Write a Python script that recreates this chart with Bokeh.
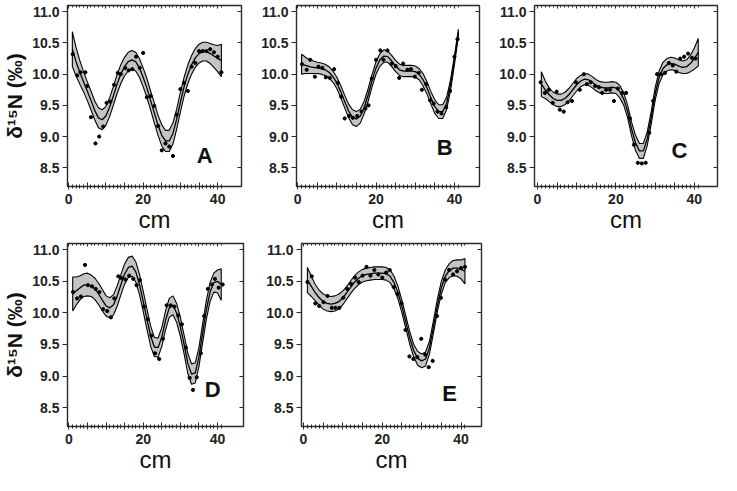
import numpy as np
from bokeh.plotting import figure
from bokeh.layouts import column, row
from bokeh.models import (LinearAxis, FixedTicker, Label,
                          PrintfTickFormatter, CustomLabelingPolicy)
from bokeh.embed import file_html
from bokeh.resources import INLINE

# ---------------- data ----------------
fit_x = list(range(1, 42))
y_ticks = [8.5, 9.0, 9.5, 10.0, 10.5, 11.0]
x_major = [0, 5, 10, 15, 20, 25, 30, 35, 40]
x_minor = list(range(0, 42))

A_x = [1.1, 2.3, 3.2, 4.5, 5.0, 6.0, 7.2, 8.2, 9.3, 10.2, 11.2, 12.2, 13.2, 14.0, 15.2, 16.1, 17.1, 18.1, 19.1, 20.0,
       21.0, 22.0, 23.0, 24.0, 25.0, 26.0, 27.0, 28.0, 29.0, 30.0, 31.0, 32.0, 33.0, 34.0, 35.0, 36.0, 37.0, 38.0,
       39.0, 40.0, 41.0]
A_y = [10.32, 9.98, 10.03, 10.03, 9.81, 9.31, 8.89, 9.00, 9.16, 9.54, 9.56, 9.83, 10.02, 10.00, 10.10, 10.06, 10.08,
       10.28, 10.10, 10.34, 9.63, 9.65, 9.49, 9.17, 8.78, 8.89, 8.84, 8.69, 9.35, 9.76, 9.86, 9.73, 10.12, 10.18, 10.37,
       10.37, 10.37, 10.40, 10.35, 10.28, 10.03]
A_fit = [10.40, 10.20, 10.03, 9.88, 9.73, 9.58, 9.42, 9.30, 9.27, 9.33, 9.47, 9.65, 9.84, 10.00, 10.12, 10.20, 10.23,
         10.20, 10.10, 9.95, 9.78, 9.58, 9.38, 9.18, 9.02, 8.93, 8.93, 9.05, 9.28, 9.55, 9.80, 10.00, 10.15, 10.26,
         10.33, 10.36, 10.36, 10.33, 10.29, 10.25, 10.22]
A_hw = [0.28, 0.23, 0.19, 0.16, 0.15, 0.15, 0.15, 0.16, 0.16, 0.15, 0.15, 0.15, 0.15, 0.15, 0.15, 0.15, 0.15, 0.15,
        0.15, 0.15, 0.15, 0.15, 0.16, 0.16, 0.17, 0.17, 0.17, 0.17, 0.16, 0.16, 0.15, 0.15, 0.15, 0.15, 0.15, 0.15,
        0.15, 0.16, 0.18, 0.21, 0.26]

B_x = [1.1, 2.3, 3.2, 4.4, 5.3, 6.3, 7.2, 8.2, 9.3, 10.2, 11.1, 12.0, 13.1, 14.1, 15.2, 16.3, 17.3, 18.1, 18.9, 20.0,
       21.1, 21.9, 22.9, 24.0, 25.0, 25.9, 26.9, 28.0, 28.9, 29.9, 30.9, 31.7, 32.8, 33.8, 34.7, 35.7, 36.7, 37.9,
       38.9, 40.0, 40.8]
B_y = [10.16, 10.07, 10.23, 9.96, 10.12, 10.10, 9.95, 9.94, 10.08, 9.86, 9.64, 9.29, 9.33, 9.30, 9.33, 9.40, 9.45,
       9.50, 9.93, 10.23, 10.38, 10.23, 10.38, 10.17, 10.13, 9.94, 10.17, 10.07, 10.08, 9.96, 10.02, 9.75, 9.84, 9.58,
       9.53, 9.40, 9.37, 9.47, 9.73, 10.28, 10.56]
B_fit = [10.16, 10.14, 10.12, 10.11, 10.10, 10.09, 10.07, 10.03, 9.96, 9.86, 9.72, 9.56, 9.41, 9.31, 9.28, 9.33, 9.47,
         9.67, 9.90, 10.10, 10.23, 10.29, 10.28, 10.21, 10.13, 10.07, 10.05, 10.05, 10.05, 10.04, 10.00, 9.91, 9.78,
         9.62, 9.48, 9.40, 9.40, 9.53, 9.82, 10.22, 10.66]
B_hw = [0.16, 0.13, 0.11, 0.10, 0.09, 0.09, 0.09, 0.09, 0.09, 0.09, 0.10, 0.10, 0.11, 0.12, 0.12, 0.11, 0.10, 0.10,
        0.10, 0.10, 0.10, 0.10, 0.09, 0.09, 0.09, 0.09, 0.09, 0.09, 0.09, 0.09, 0.09, 0.10, 0.10, 0.10, 0.11, 0.11,
        0.11, 0.10, 0.09, 0.07, 0.06]

C_x = [0.8, 1.9, 2.9, 3.9, 4.9, 5.7, 6.7, 7.7, 8.8, 9.8, 10.8, 11.8, 12.6, 13.6, 14.7, 15.7, 16.5, 17.5, 18.5, 19.5,
       20.5, 21.6, 22.6, 23.6, 24.6, 25.6, 26.6, 27.6, 28.5, 29.5, 30.5, 31.5, 32.5, 33.5, 34.5, 35.4, 36.4, 37.4,
       38.4, 39.4, 40.3]
C_y = [9.87, 9.70, 9.75, 9.54, 9.72, 9.43, 9.40, 9.55, 9.57, 9.87, 9.75, 10.00, 9.84, 9.87, 9.81, 9.79, 9.70, 9.75,
       9.75, 9.57, 9.77, 9.70, 9.70, 9.29, 8.87, 8.58, 8.57, 8.58, 9.06, 9.57, 10.00, 10.00, 10.02, 10.18, 10.14,
       10.04, 10.25, 10.28, 10.33, 10.26, 10.25]
C_fit = [9.84, 9.75, 9.67, 9.61, 9.58, 9.58, 9.61, 9.67, 9.75, 9.83, 9.89, 9.92, 9.91, 9.87, 9.82, 9.79, 9.78, 9.78,
         9.79, 9.78, 9.72, 9.60, 9.40, 9.12, 8.90, 8.77, 8.77, 8.97, 9.30, 9.68, 9.95, 10.09, 10.15, 10.17, 10.16,
         10.13, 10.11, 10.12, 10.17, 10.25, 10.35]
C_hw = [0.20, 0.14, 0.11, 0.10, 0.10, 0.10, 0.10, 0.10, 0.10, 0.10, 0.09, 0.09, 0.09, 0.09, 0.09, 0.09, 0.09, 0.09,
        0.09, 0.09, 0.10, 0.10, 0.10, 0.11, 0.12, 0.12, 0.12, 0.11, 0.10, 0.10, 0.10, 0.10, 0.10, 0.10, 0.10, 0.10,
        0.10, 0.11, 0.13, 0.17, 0.22]

D_x = [1.1, 2.2, 3.2, 4.3, 5.1, 6.2, 7.2, 8.2, 9.2, 10.3, 11.3, 12.2, 13.3, 14.2, 15.2, 16.2, 17.3, 18.2, 19.1, 20.2,
       21.2, 22.2, 23.2, 24.3, 25.3, 26.3, 27.4, 28.4, 29.4, 30.4, 31.5, 32.5, 33.4, 34.4, 35.5, 36.4, 37.4, 38.5,
       39.3, 40.3, 41.4]
D_y = [10.33, 10.23, 10.26, 10.76, 10.44, 10.42, 10.38, 10.33, 10.06, 10.03, 9.93, 10.23, 10.58, 10.55, 10.53, 10.59,
       10.54, 10.44, 10.52, 10.10, 9.90, 9.64, 9.36, 9.27, 9.59, 10.12, 10.12, 10.10, 9.96, 9.82, 9.45, 8.97, 8.78,
       8.98, 9.36, 9.95, 10.38, 10.45, 10.54, 10.40, 10.45]
D_fit = [10.30, 10.35, 10.40, 10.44, 10.45, 10.43, 10.38, 10.30, 10.20, 10.11, 10.08, 10.13, 10.27, 10.45, 10.62,
         10.72, 10.74, 10.65, 10.45, 10.18, 9.90, 9.63, 9.46, 9.45, 9.62, 9.88, 10.08, 10.12, 10.00, 9.78, 9.50, 9.20,
         9.03, 9.05, 9.30, 9.68, 10.05, 10.33, 10.48, 10.50, 10.45]
D_hw = [0.27, 0.22, 0.19, 0.18, 0.18, 0.17, 0.17, 0.17, 0.17, 0.16, 0.16, 0.16, 0.16, 0.16, 0.16, 0.16, 0.16, 0.16,
        0.16, 0.16, 0.16, 0.16, 0.15, 0.15, 0.15, 0.15, 0.15, 0.15, 0.15, 0.15, 0.15, 0.16, 0.16, 0.16, 0.15, 0.15,
        0.15, 0.15, 0.15, 0.18, 0.25]

E_x = [1.0, 2.1, 3.0, 4.0, 5.1, 6.1, 7.2, 8.1, 9.1, 10.1, 11.1, 12.1, 13.1, 14.0, 15.0, 16.0, 17.0, 18.0, 19.0, 20.0,
       21.0, 21.9, 22.9, 23.9, 24.9, 25.9, 26.9, 27.9, 28.9, 29.9, 30.9, 31.8, 32.8, 33.9, 34.9, 35.9, 37.0, 38.0,
       39.0, 40.0, 41.0]
E_y = [10.49, 10.58, 10.15, 10.11, 10.17, 10.27, 10.08, 10.08, 10.08, 10.24, 10.38, 10.46, 10.56, 10.49, 10.59, 10.73,
       10.59, 10.68, 10.61, 10.56, 10.64, 10.68, 10.41, 10.30, 10.15, 9.73, 9.31, 9.27, 9.30, 9.59, 9.34, 9.14, 9.24,
       9.95, 10.24, 10.53, 10.68, 10.61, 10.66, 10.71, 10.73]
E_fit = [10.52, 10.42, 10.32, 10.24, 10.18, 10.15, 10.14, 10.15, 10.18, 10.24, 10.32, 10.41, 10.49, 10.55, 10.59,
         10.61, 10.62, 10.63, 10.63, 10.63, 10.62, 10.58, 10.48, 10.32, 10.10, 9.85, 9.60, 9.40, 9.28, 9.24, 9.27,
         9.45, 9.78, 10.12, 10.40, 10.58, 10.67, 10.71, 10.71, 10.69, 10.66]
E_hw = [0.20, 0.16, 0.13, 0.12, 0.12, 0.12, 0.12, 0.12, 0.12, 0.11, 0.10, 0.10, 0.10, 0.10, 0.10, 0.10, 0.10, 0.10,
        0.10, 0.10, 0.10, 0.10, 0.10, 0.10, 0.10, 0.10, 0.10, 0.10, 0.11, 0.11, 0.11, 0.10, 0.10, 0.10, 0.10, 0.10,
        0.11, 0.12, 0.13, 0.15, 0.20]

FONT = "Liberation Sans"
AX = "#2a2a2a"


def panel(px, py, fit, hw, letter, lx, ly, x_range, width, height, bl, br, bt, bb, ylabel):
    p = figure(width=width, height=height, x_range=x_range, y_range=(8.2, 11.1),
               output_backend="svg", toolbar_location=None,
               min_border_left=bl, min_border_right=br, min_border_top=bt, min_border_bottom=bb)
    p.grid.visible = False
    p.outline_line_color = AX
    p.outline_line_width = 1.4
    p.background_fill_color = "white"
    p.border_fill_color = "white"

    fx = np.array(fit_x, dtype=float)
    fm = np.array(fit, dtype=float)
    fh = np.array(hw, dtype=float)
    hi = fm + fh
    lo = fm - fh
    # closed confidence band
    p.patch(np.concatenate([fx, fx[::-1]]), np.concatenate([hi, lo[::-1]]),
            fill_color="#c4c4c4", line_color="black", line_width=1.1)
    p.line(fx, fm, line_color="black", line_width=1.3)
    p.scatter(px, py, size=3.2, marker="circle", fill_color="black", line_color="black")

    # bottom axis
    xa = p.xaxis[0]
    xa.ticker = FixedTicker(ticks=x_major, minor_ticks=x_minor)
    xa.formatter = PrintfTickFormatter(format="%d")
    xa.major_label_policy = CustomLabelingPolicy(code="""
        const result = new Set()
        for (const i of indices) {
            if (i % 4 == 0) result.add(i)
        }
        return result
    """)
    xa.major_tick_in = 4
    xa.major_tick_out = 3
    xa.minor_tick_in = 2
    xa.minor_tick_out = 2
    xa.axis_line_color = AX
    xa.major_tick_line_color = AX
    xa.minor_tick_line_color = AX
    xa.major_label_text_font = FONT
    xa.major_label_text_font_style = "bold"
    xa.major_label_text_font_size = "14px"
    xa.major_label_text_color = "#222222"
    xa.major_label_standoff = 4
    xa.axis_label = "cm"
    xa.axis_label_text_font = FONT
    xa.axis_label_text_font_style = "normal"
    xa.axis_label_text_font_size = "24px"
    xa.axis_label_text_color = "#111111"
    xa.axis_label_standoff = -1

    # left axis
    ya = p.yaxis[0]
    ya.ticker = FixedTicker(ticks=y_ticks)
    ya.formatter = PrintfTickFormatter(format="%.1f")
    ya.major_tick_in = 0
    ya.major_tick_out = 5
    ya.minor_tick_in = 0
    ya.minor_tick_out = 0
    ya.axis_line_color = AX
    ya.major_tick_line_color = AX
    ya.major_label_text_font = FONT
    ya.major_label_text_font_style = "bold"
    ya.major_label_text_font_size = "14px"
    ya.major_label_text_color = "#222222"
    ya.major_label_standoff = 3
    if ylabel:
        ya.axis_label = "δ¹⁵N (‰)"
        ya.axis_label_text_font = FONT
        ya.axis_label_text_font_style = "bold"
        ya.axis_label_text_font_size = "21px"
        ya.axis_label_text_color = "#111111"
        ya.axis_label_standoff = 3

    # top axis (inward ticks, no labels)
    top = LinearAxis(ticker=FixedTicker(ticks=x_major, minor_ticks=x_minor),
                     major_tick_in=3, major_tick_out=0, minor_tick_in=2, minor_tick_out=0,
                     major_label_text_font_size="0px", major_label_text_color=None,
                     major_label_standoff=0,
                     axis_line_color=AX, major_tick_line_color=AX, minor_tick_line_color=AX)
    p.add_layout(top, "above")
    # right axis (inward ticks, no labels)
    right = LinearAxis(ticker=FixedTicker(ticks=y_ticks), major_tick_in=4, major_tick_out=0,
                       minor_tick_in=0, minor_tick_out=0,
                       major_label_text_font_size="0px", major_label_text_color=None,
                       major_label_standoff=0,
                       axis_line_color=AX, major_tick_line_color=AX)
    p.add_layout(right, "right")

    p.add_layout(Label(x=lx, y=ly, text=letter, text_font=FONT, text_font_style="bold",
                       text_font_size="22px", text_align="center", text_baseline="middle",
                       text_color="#111111"))
    return p


FW = 183
FH = 183
H1 = 3 + FH + 54
H2 = 3 + FH + 49
pA = panel(A_x, A_y, A_fit, A_hw, "A", 36.5, 8.70, (-0.3, 46.4), 58 + FW + 10, H1, 58, 10, 3, 54, True)
pB = panel(B_x, B_y, B_fit, B_hw, "B", 37.5, 8.82, (-0.3, 46.4), 45 + FW + 10, H1, 45, 10, 3, 54, False)
pC = panel(C_x, C_y, C_fit, C_hw, "C", 36.2, 8.78, (-0.75, 45.9), 45 + FW + 4, H1, 45, 4, 5, 52, False)
pD = panel(D_x, D_y, D_fit, D_hw, "D", 38.7, 8.78, (-0.4, 47.0), 60 + FW + 10, H2, 60, 10, 3, 49, True)
pE = panel(E_x, E_y, E_fit, E_hw, "E", 37.1, 8.73, (-0.5, 45.2), 48 + 180 + 10, H2, 48, 10, 3, 49, False)

layout = column(row(pA, pB, pC), row(pD, pE))
open("out.html", "w").write(file_html(layout, INLINE))
